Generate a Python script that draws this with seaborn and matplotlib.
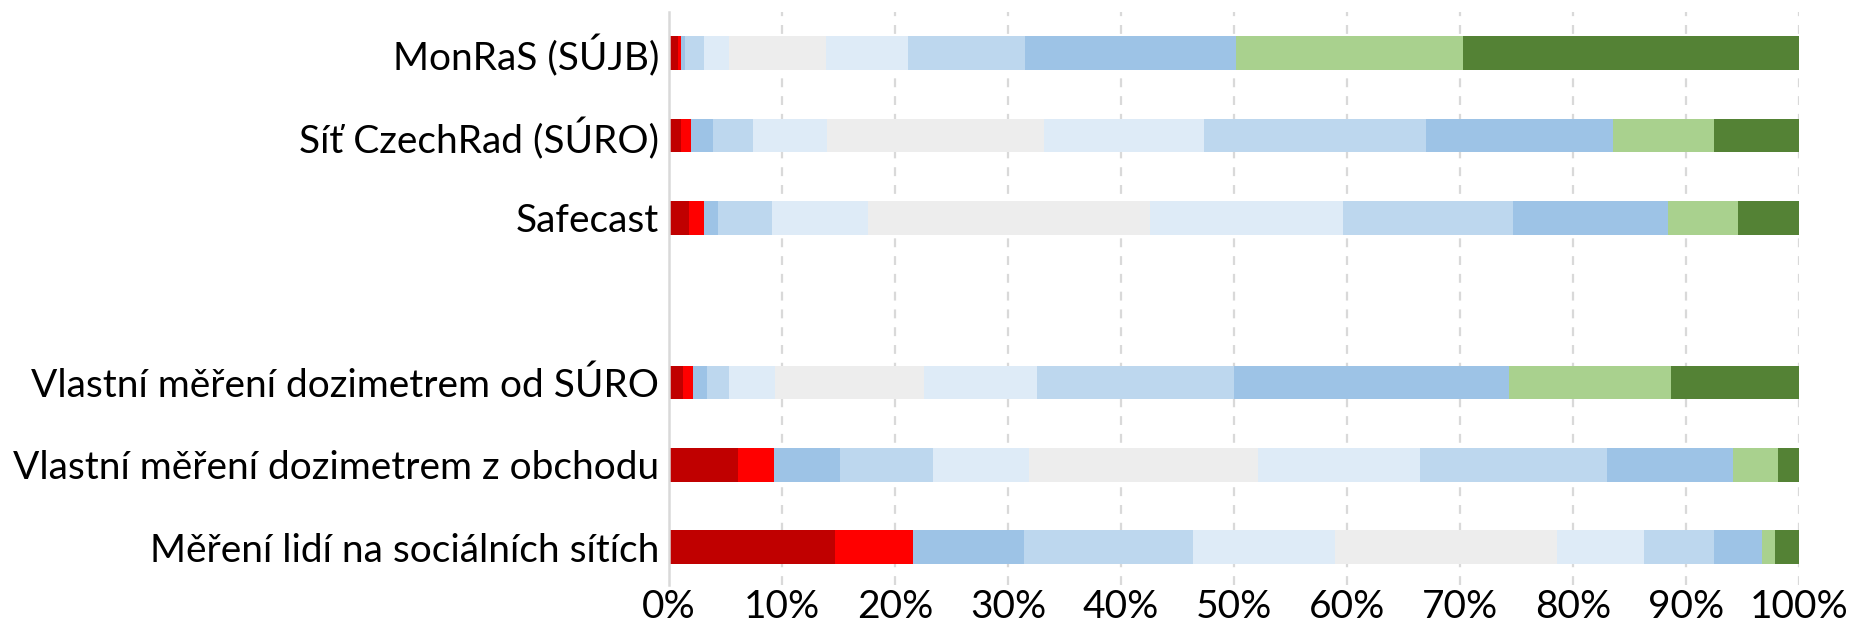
import matplotlib
matplotlib.use("Agg")
import matplotlib.pyplot as plt
import seaborn as sns
import pandas as pd
import numpy as np

categories = [
    "MonRaS (SÚJB)",
    "Síť CzechRad (SÚRO)",
    "Safecast",
    "Vlastní měření dozimetrem od SÚRO",
    "Vlastní měření dozimetrem z obchodu",
    "Měření lidí na sociálních sítích",
]
order = categories[:3] + [" "] + categories[3:]

levels = ["L1", "L2", "L3", "L4", "L5", "L6", "L7", "L8", "L9", "L10", "L11"]
colors = ["#C00000", "#FF0000", "#9DC3E6", "#BDD7EE", "#DEEBF7", "#EDEDED",
          "#DEEBF7", "#BDD7EE", "#9DC3E6", "#A9D18E", "#548235"]

monras = [0.82, 0.26, 0.36, 1.67, 2.23, 8.58, 7.23, 10.38, 18.67, 20.1, 29.7]
czechrad = [1.08, 0.88, 1.94, 3.53, 6.55, 19.22, 14.18, 19.65, 16.5, 8.97, 7.5]
safecast = [1.77, 1.34, 1.24, 4.79, 8.48, 24.98, 17.06, 15.06, 13.66, 6.25, 5.37]
vlastni_suro = [1.24, 0.89, 1.24, 1.97, 4.06, 13.19, 9.99, 17.45, 24.3, 14.31, 11.36]
vlastni_obchod = [6.12, 3.18, 5.86, 8.22, 8.51, 20.21, 14.4, 16.54, 11.1, 3.96, 1.9]
socialni = [14.70, 6.91, 9.82, 14.97, 12.57, 19.65, 7.63, 6.19, 4.32, 1.14, 2.1]

series = [monras, czechrad, safecast, vlastni_suro, vlastni_obchod, socialni]

rows = []
for cat, vals in zip(categories, series):
    v = np.array(vals, dtype=float)
    v = v / v.sum() * 100
    cum = np.cumsum(v)
    for lev, c in zip(levels, cum):
        rows.append({"category": cat, "level": lev, "cum": c})
df = pd.DataFrame(rows)

sns.set_theme(style="white")
plt.rcParams["font.family"] = ["Lato", "DejaVu Sans"]

fig = plt.figure(figsize=(18.53, 6.30), dpi=100)
ax = fig.add_axes([669 / 1853, 1 - 585 / 630, (1799 - 669) / 1853, (585 - 12) / 630])

# draw cumulative bars from the largest to the smallest so each stack shows
for lev, col in reversed(list(zip(levels, colors))):
    sub = df[df["level"] == lev]
    sns.barplot(data=sub, x="cum", y="category", order=order, color=col,
                orient="h", width=0.41, linewidth=0, edgecolor="none",
                saturation=1, ax=ax, zorder=3)

ax.set_xlim(0, 100)
ax.set_ylim(6.46, -0.50)
ax.set_xticks(np.arange(0, 101, 10))
ax.set_xticklabels([f"{t}%" for t in range(0, 101, 10)])
ax.set_xlabel("")
ax.set_ylabel("")
ax.tick_params(axis="both", length=0, labelsize=28, colors="black")
ax.tick_params(axis="y", pad=7)
ax.tick_params(axis="x", pad=3)

ax.grid(False)
for t in range(10, 101, 10):
    ax.axvline(t, color="#D9D9D9", lw=1.6, ls=(0, (4, 4)), zorder=1)
for s in ["top", "right", "bottom"]:
    ax.spines[s].set_visible(False)
ax.spines["left"].set_color("#D9D9D9")
ax.spines["left"].set_linewidth(1.8)
ax.spines["left"].set_zorder(4)

fig.savefig("out.png", dpi=100)
